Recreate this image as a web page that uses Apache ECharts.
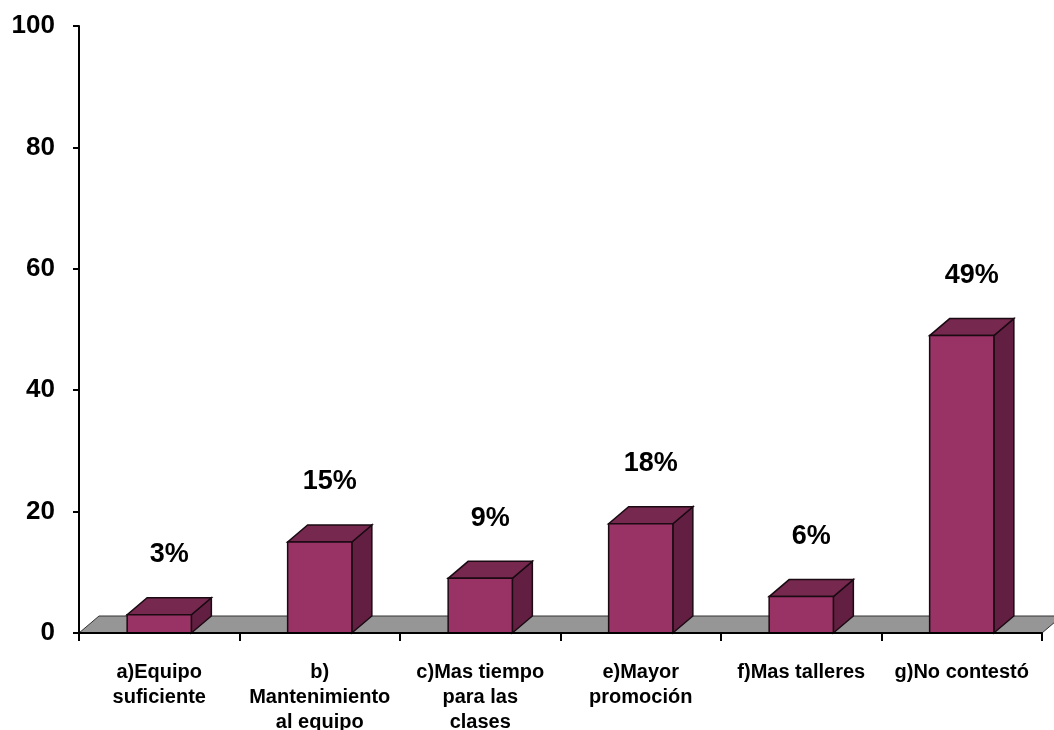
<!DOCTYPE html>
<html>
<head>
<meta charset="utf-8">
<script src="https://cdn.jsdelivr.net/npm/echarts@6/dist/echarts.min.js"></script>
<style>
  html, body { margin: 0; padding: 0; background: #fff; }
  #chart { width: 1054px; height: 730px; }
</style>
</head>
<body>
<div id="chart"></div>
<script>
var categories = [
  "a)Equipo\nsuficiente",
  "b)\nMantenimiento\nal equipo",
  "c)Mas tiempo\npara las\nclases",
  "e)Mayor\npromoción",
  "f)Mas talleres",
  "g)No contestó"
];
var values = [3, 15, 9, 18, 6, 49];
var yTicks = [0, 20, 40, 60, 80, 100];

var DX = 20, DY = 17;
var FONT = "'Liberation Sans', Arial, sans-serif";

function renderFloor(params, api) {
  var cs = params.coordSys;
  var yb = cs.y + cs.height;
  return {
    type: "polygon",
    shape: {
      points: [
        [cs.x, yb],
        [cs.x + cs.width, yb],
        [cs.x + cs.width + DX, yb - DY],
        [cs.x + DX, yb - DY]
      ]
    },
    style: { fill: "#969696", stroke: "#333", lineWidth: 1 }
  };
}

function renderBar(params, api) {
  var base = api.coord([api.value(0), 0]);
  var top = api.coord([api.value(0), api.value(1)]);
  var bw = api.size([1, 0])[0] * 0.4;
  var x0 = base[0] - bw / 2, x1 = base[0] + bw / 2;
  var yb = base[1], yt = top[1];
  var line = { stroke: "#1a0a12", lineWidth: 1.5 };
  return {
    type: "group",
    children: [
      {
        type: "polygon",
        shape: { points: [[x1, yt], [x1 + DX, yt - DY], [x1 + DX, yb - DY], [x1, yb]] },
        style: Object.assign({ fill: "#621f41" }, line)
      },
      {
        type: "polygon",
        shape: { points: [[x0, yt], [x1, yt], [x1 + DX, yt - DY], [x0 + DX, yt - DY]] },
        style: Object.assign({ fill: "#77284f" }, line)
      },
      {
        type: "rect",
        shape: { x: x0, y: yt, width: bw, height: yb - yt },
        style: Object.assign({ fill: "#993366" }, line)
      },
      {
        type: "text",
        style: {
          x: base[0] + 10,
          y: yt - 60,
          text: api.value(1) + "%",
          fill: "#000",
          font: "bold 27px " + FONT,
          textAlign: "center",
          textVerticalAlign: "middle"
        }
      }
    ]
  };
}

var chart = echarts.init(document.getElementById("chart"));
chart.setOption({
  backgroundColor: "#fff",
  animation: false,
  grid: { left: 79, right: 12, top: 26, bottom: 97, outerBoundsMode: "none", containLabel: false },
  xAxis: {
    type: "category",
    data: categories,
    z: 5,
    axisLine: { lineStyle: { color: "#000", width: 2 } },
    axisTick: { show: true, length: 8, lineStyle: { color: "#000", width: 2 } },
    axisLabel: {
      interval: 0,
      margin: 27,
      color: "#000",
      fontWeight: "bold",
      fontSize: 20,
      lineHeight: 25,
      fontFamily: FONT
    }
  },
  yAxis: {
    type: "value",
    min: yTicks[0],
    max: yTicks[yTicks.length - 1],
    interval: yTicks[1] - yTicks[0],
    z: 5,
    axisLine: { show: true, lineStyle: { color: "#000", width: 2 } },
    axisTick: { show: true, length: 6, lineStyle: { color: "#000", width: 2 } },
    splitLine: { show: false },
    axisLabel: {
      margin: 24,
      color: "#000",
      fontWeight: "bold",
      fontSize: 26,
      fontFamily: FONT
    }
  },
  series: [
    {
      type: "custom",
      z: 1,
      silent: true,
      renderItem: renderFloor,
      data: [[0, 0]]
    },
    {
      type: "custom",
      z: 2,
      renderItem: renderBar,
      encode: { x: 0, y: 1 },
      data: values.map(function (v, i) { return [i, v]; })
    }
  ]
});
</script>
</body>
</html>
